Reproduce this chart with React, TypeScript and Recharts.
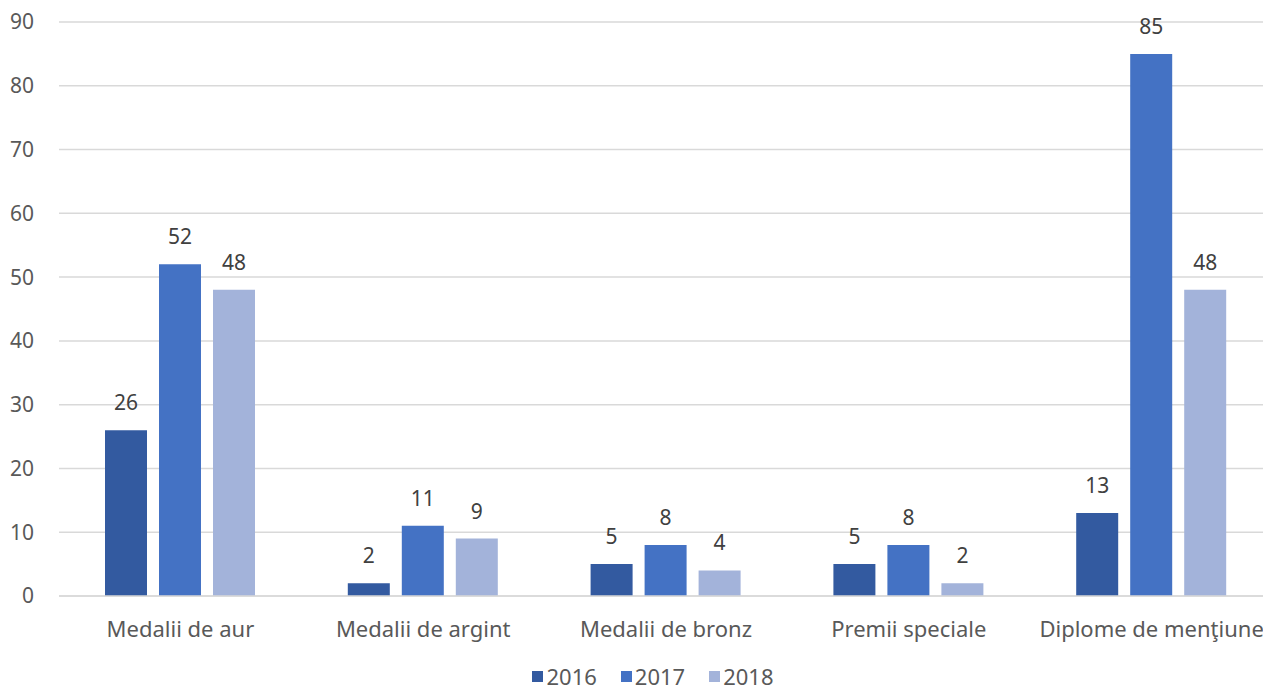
import React from "react";
import {
  BarChart,
  Bar,
  XAxis,
  YAxis,
  CartesianGrid,
  Legend,
  LabelList,
} from "recharts";

const categories = [
  "Medalii de aur",
  "Medalii de argint",
  "Medalii de bronz",
  "Premii speciale",
  "Diplome de menţiune",
];
const values2016 = [26, 2, 5, 5, 13];
const values2017 = [52, 11, 8, 8, 85];
const values2018 = [48, 9, 4, 2, 48];
const yTicks = [0, 10, 20, 30, 40, 50, 60, 70, 80, 90];

const series = [
  { key: "y2016", name: "2016", color: "#335AA0" },
  { key: "y2017", name: "2017", color: "#4472C4" },
  { key: "y2018", name: "2018", color: "#A3B3DA" },
];

const data = categories.map((name, i) => ({
  name,
  y2016: values2016[i],
  y2017: values2017[i],
  y2018: values2018[i],
}));

const FONT = "'Noto Sans', 'Open Sans', sans-serif";

const LegendContent = () => (
  <div
    style={{
      display: "flex",
      justifyContent: "center",
      alignItems: "center",
      height: 32,
      paddingLeft: 33,
      boxSizing: "border-box",
      fontSize: 22,
      lineHeight: "28px",
      color: "#595959",
    }}
  >
    {series.map((s) => (
      <div
        key={s.key}
        style={{ display: "flex", alignItems: "center", margin: "0 12px" }}
      >
        <span
          style={{
            width: 11,
            height: 11,
            background: s.color,
            display: "inline-block",
            marginRight: 3,
          }}
        />
        <span>{s.name}</span>
      </div>
    ))}
  </div>
);

const App = () => {
  return (
    <div
      style={{
        position: "fixed",
        left: 0,
        top: 0,
        width: 1263,
        height: 692,
        overflow: "hidden",
        background: "#fff",
        fontFamily: FONT,
      }}
    >
      <BarChart
        width={1273}
        height={692}
        data={data}
        margin={{ top: 22, right: 0, left: 0, bottom: 0 }}
        barGap={12}
        barSize={42}
      >
        <CartesianGrid vertical={false} stroke="#D9D9D9" strokeWidth={1.5} />
        <XAxis
          dataKey="name"
          height={64}
          tickLine={false}
          axisLine={{ stroke: "#D9D9D9", strokeWidth: 1.5 }}
          tickSize={0}
          tickMargin={25}
          interval={0}
          tick={{ fill: "#595959", fontSize: 22 }}
        />
        <YAxis
          width={59}
          domain={[0, 90]}
          ticks={yTicks}
          axisLine={false}
          tickLine={false}
          tickSize={0}
          tickMargin={25}
          tick={{ fill: "#595959", fontSize: 21 }}
        />
        <Legend
          verticalAlign="bottom"
          height={32}
          wrapperStyle={{ left: 0, width: 1273 }}
          content={<LegendContent />}
        />
        {series.map((s) => (
          <Bar
            key={s.key}
            dataKey={s.key}
            name={s.name}
            fill={s.color}
            isAnimationActive={false}
          >
            <LabelList
              dataKey={s.key}
              position="top"
              offset={20}
              fill="#404040"
              fontSize={21}
            />
          </Bar>
        ))}
      </BarChart>
    </div>
  );
};

export default App;
